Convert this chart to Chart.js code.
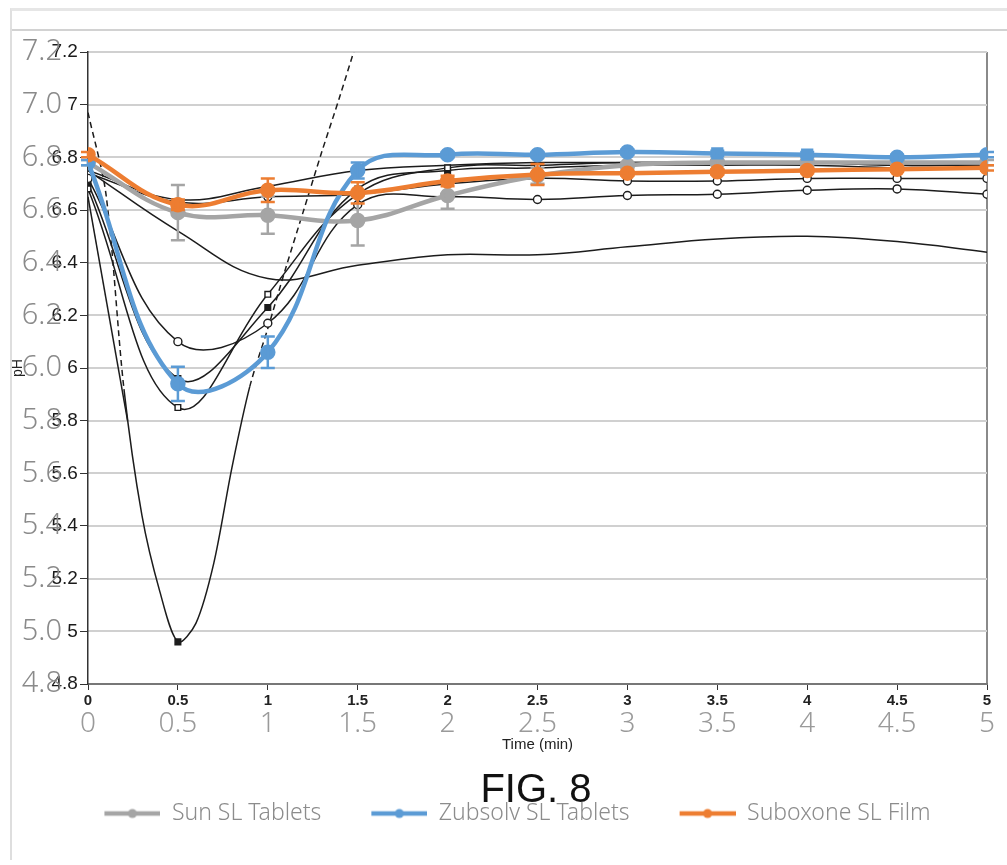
<!DOCTYPE html>
<html>
<head>
<meta charset="utf-8">
<script src="https://cdn.jsdelivr.net/npm/chart.js@4.4.1/dist/chart.umd.min.js"></script>
<style>
  html, body { margin: 0; padding: 0; background: #fff; }
  #wrap { position: relative; width: 1007px; height: 865px; overflow: hidden; }
  #topbar { position: absolute; left: 10px; top: 8px; right: 0; height: 18px;
    border-top: 3px solid #e6e6e6; border-bottom: 2px solid #d2d2d2; border-left: 2px solid #e0e0e0; }
  #leftbar { position: absolute; left: 10px; top: 28px; width: 2px; height: 832px; background: #dedede; }
  #fig { position: absolute; left: 0; width: 1072px; top: 766px; text-align: center;
    font: 40px "Liberation Sans", Arial, sans-serif; color: #111; z-index: 2; }
  canvas { position: absolute; left: 0; top: 0; }
</style>
</head>
<body>
<div id="wrap">
  <div id="topbar"></div>
  <div id="leftbar"></div>
  <canvas id="chart" width="1007" height="865"></canvas>
  <div id="fig">FIG. 8</div>
</div>
<script>
/* DATA */
const times = [0, 0.5, 1, 1.5, 2, 2.5, 3, 3.5, 4, 4.5, 5];
const xTicks = [0, 0.5, 1, 1.5, 2, 2.5, 3, 3.5, 4, 4.5, 5];
const yTicks = [4.8, 5.0, 5.2, 5.4, 5.6, 5.8, 6.0, 6.2, 6.4, 6.6, 6.8, 7.0, 7.2];

const sunPH  = [6.78, 6.59, 6.58, 6.56, 6.655, 6.73, 6.77, 6.78, 6.78, 6.78, 6.78];
const sunErr = [0.01, 0.105, 0.07, 0.095, 0.05, 0.03, 0.01, 0.01, 0.01, 0.01, 0.01];
const zubPH  = [6.78, 5.94, 6.06, 6.75, 6.81, 6.81, 6.82, 6.815, 6.81, 6.80, 6.81];
const zubErr = [0.01, 0.065, 0.06, 0.03, 0.01, 0.01, 0.01, 0.01, 0.01, 0.01, 0.01];
const subPH  = [6.81, 6.62, 6.675, 6.665, 6.71, 6.735, 6.74, 6.745, 6.75, 6.755, 6.76];
const subErr = [0.01, 0.02, 0.045, 0.04, 0.02, 0.04, 0.01, 0.01, 0.01, 0.01, 0.01];
const zubMarks = ["circle", "circle", "circle", "circle", "circle", "circle", "circle", "rect", "rect", "circle", "circle"];

// black traces of the older figure underneath
const traceU      = [6.75, 6.52, 6.34, 6.39, 6.43, 6.43, 6.46, 6.49, 6.50, 6.48, 6.44];
const traceCircle = [6.72, 6.10, 6.17, 6.62, 6.65, 6.64, 6.655, 6.66, 6.675, 6.68, 6.66];
const traceOpenSq = [6.68, 5.85, 6.28, 6.66, 6.76, 6.77, 6.78, 6.78, 6.78, 6.77, 6.77];
const traceFillSq = [6.70, 5.96, 6.23, 6.68, 6.75, 6.76, 6.77, 6.77, 6.77, 6.76, 6.76];
const traceHigh   = [6.75, 6.64, 6.69, 6.75, 6.77, 6.78, 6.78, 6.78, 6.78, 6.77, 6.77];
const traceLow    = [6.74, 6.63, 6.65, 6.66, 6.70, 6.72, 6.71, 6.71, 6.72, 6.72, 6.72];
const deepTimes = [0, 0.1, 0.2, 0.3, 0.4, 0.5, 0.6, 0.7, 0.8, 0.9, 1.0, 1.1, 1.2, 1.3, 1.4, 1.5];
const deepPH    = [6.97, 6.66, 5.92, 5.44, 5.15, 4.96, 5.03, 5.26, 5.62, 5.93, 6.15, 6.38, 6.60, 6.82, 7.03, 7.25];
const steepTimes = [0, 0.22];
const steepPH    = [6.65, 5.8];

const SUN = "#a5a5a5", ZUB = "#5b9bd5", SUB = "#ed7d31", INK = "#1c1c1c";
const THIN = { family: "'Noto Sans', 'DejaVu Sans Condensed', sans-serif", weight: "300" };
const ARIAL = "'Liberation Sans', Arial, sans-serif";

function pts(xs, ys) {
  return xs.map((x, i) => ({ x, y: ys[i] }));
}

/* ERROR BARS */
const errorBars = {
  id: "errorBars",
  afterDatasetDraw(chart, args) {
    const ds = chart.data.datasets[args.index];
    if (!ds.errors) return;
    const { ctx, scales: { x, y } } = chart;
    ctx.save();
    ctx.strokeStyle = ds.borderColor;
    ctx.lineWidth = 2.5;
    ds.data.forEach((p, i) => {
      const e = ds.errors[i];
      const px = x.getPixelForValue(p.x);
      const top = y.getPixelForValue(p.y + e);
      const bot = y.getPixelForValue(p.y - e);
      ctx.beginPath();
      ctx.moveTo(px, top); ctx.lineTo(px, bot);
      ctx.moveTo(px - 7, top); ctx.lineTo(px + 7, top);
      ctx.moveTo(px - 7, bot); ctx.lineTo(px + 7, bot);
      ctx.stroke();
    });
    ctx.restore();
  }
};

/* LEGEND ICON (line with a dot, left margin is spacing) */
function legendIcon(color, margin) {
  const c = document.createElement("canvas");
  c.width = margin + 56; c.height = 12;
  const g = c.getContext("2d");
  g.strokeStyle = color; g.lineWidth = 4.5;
  g.beginPath(); g.moveTo(margin, 6); g.lineTo(margin + 56, 6); g.stroke();
  g.fillStyle = color;
  g.beginPath(); g.arc(margin + 28, 6, 4.5, 0, Math.PI * 2); g.fill();
  return c;
}
const icons = [legendIcon(SUN, 40), legendIcon(ZUB, 40), legendIcon(SUB, 40)];

function colored(label, color, ys, errs, order, marks) {
  return {
    label, data: pts(times, ys), errors: errs, order,
    borderColor: color, backgroundColor: color,
    borderWidth: 4.5, tension: 0.4,
    pointRadius: 5.5, pointStyle: marks || "circle",
    pointBackgroundColor: color, pointBorderColor: color
  };
}

function trace(xs, ys, opts) {
  return Object.assign({
    label: "", data: pts(xs, ys), order: 5,
    borderColor: INK, borderWidth: 1.5, tension: 0.4,
    pointRadius: 0, pointBackgroundColor: "#fff", pointBorderColor: INK, pointBorderWidth: 1.4
  }, opts || {});
}

const dashed = (c) => (c.p0.parsed.y > 5.75 && c.p1.parsed.y > 5.75) ? [6, 4] : undefined;

new Chart(document.getElementById("chart"), {
  type: "line",
  data: {
    datasets: [
      colored("Sun SL Tablets", SUN, sunPH, sunErr, 2),
      colored("Zubsolv SL Tablets", ZUB, zubPH, zubErr, 1, zubMarks),
      colored("Suboxone SL Film", SUB, subPH, subErr, 0),
      trace(times, traceU),
      trace(times, traceCircle, { pointRadius: 4, pointStyle: "circle" }),
      trace(times, traceOpenSq, { pointRadius: 4, pointStyle: "rect" }),
      trace(times, traceFillSq, { pointRadius: 4, pointStyle: "rect", pointBackgroundColor: INK }),
      trace(times, traceHigh),
      trace(times, traceLow, { pointRadius: 4, pointStyle: "circle" }),
      trace(deepTimes, deepPH, {
        tension: 0.3, segment: { borderDash: dashed },
        pointStyle: "rect", pointBackgroundColor: INK,
        pointRadius: c => (c.raw && c.raw.x === 0.5 ? 4 : 0)
      }),
      trace(steepTimes, steepPH, { tension: 0 })
    ]
  },
  options: {
    responsive: false,
    animation: false,
    layout: { padding: { left: 8, right: 20, top: 52, bottom: 30 } },
    plugins: {
      tooltip: { enabled: false },
      legend: {
        position: "bottom",
        labels: {
          usePointStyle: true,
          pointStyleWidth: 96,
          padding: 10,
          color: "#8c8c8c",
          font: Object.assign({ size: 23 }, THIN),
          sort: (a, b) => a.datasetIndex - b.datasetIndex,
          generateLabels: chart =>
            Chart.defaults.plugins.legend.labels.generateLabels(chart)
              .filter(l => l.datasetIndex < 3)
              .map(l => Object.assign(l, { pointStyle: icons[l.datasetIndex], fontColor: "#8c8c8c" }))
        }
      }
    },
    scales: {
      x: {
        type: "linear", min: 0, max: 5, weight: 0,
        afterBuildTicks: s => { s.ticks = xTicks.map(v => ({ value: v })); },
        afterFit: s => { s.height = 23; },
        border: { color: "#777", width: 2 },
        grid: { drawOnChartArea: false, tickLength: 6, color: "#333" },
        ticks: { color: "#222", padding: 2, maxRotation: 0, callback: v => String(v),
          font: { family: ARIAL, size: 15, weight: "bold" } }
      },
      xG: {
        type: "linear", position: "bottom", min: 0, max: 5, weight: 1, z: -1,
        afterBuildTicks: s => { s.ticks = xTicks.map(v => ({ value: v })); },
        afterFit: s => { s.height = 85; },
        border: { display: false },
        grid: { drawTicks: false, color: c => (c.tick && c.tick.value === 5 ? "#8a8a8a" : "rgba(0,0,0,0)"), lineWidth: 2 },
        ticks: { color: "#9a9a9a", padding: 0, maxRotation: 0, callback: v => String(v),
          font: Object.assign({ size: 28 }, THIN) },
        title: { display: true, text: "Time (min)", color: "#222", padding: { top: 0, bottom: 38 },
          font: { family: ARIAL, size: 15 } }
      },
      y: {
        type: "linear", min: 4.8, max: 7.2, weight: 0,
        afterBuildTicks: s => { s.ticks = yTicks.map(v => ({ value: v })); },
        afterFit: s => { s.width = 22; },
        border: { color: "#333", width: 1.5, dash: [7, 5] },
        grid: { color: c => (c.tick && c.tick.value === 7.2 ? "rgba(0,0,0,0.75)" : "rgba(0,0,0,0.3)"),
          tickColor: "#333", tickLength: 8, lineWidth: 1 },
        // mirrored so the labels are not clipped to the narrow axis box; pulled back left of the axis
        ticks: { mirror: true, crossAlign: "far", padding: -36.5, color: "#1a1a1a",
          font: { family: ARIAL, size: 19 },
          callback: v => String(Number(v.toFixed(1))) }
      },
      yG: {
        type: "linear", position: "left", min: 4.8, max: 7.2, weight: 1, z: -1,
        afterBuildTicks: s => { s.ticks = yTicks.map(v => ({ value: v })); },
        afterFit: s => { s.width = 58; },
        border: { display: false },
        grid: { drawTicks: false, color: "#d0d0d0", lineWidth: 2 },
        ticks: { color: "#8a8a8a", padding: 4, font: Object.assign({ size: 29 }, THIN),
          callback: v => v.toFixed(1) },
        title: { display: true, text: "pH", color: "#222", padding: 2,
          font: { family: ARIAL, size: 14 } }
      }
    }
  },
  plugins: [errorBars]
});
</script>
</body>
</html>
